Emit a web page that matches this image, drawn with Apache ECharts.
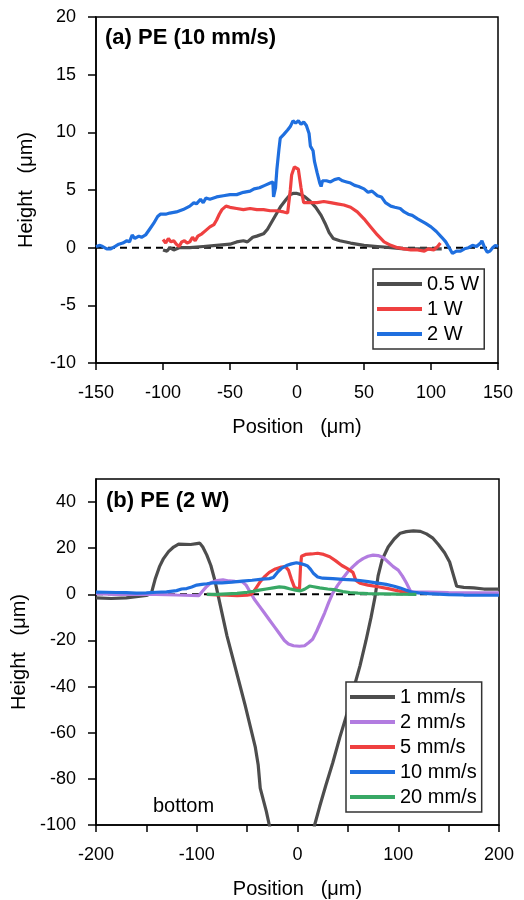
<!DOCTYPE html>
<html>
<head>
<meta charset="utf-8">
<script src="https://cdn.jsdelivr.net/npm/echarts@6/dist/echarts.min.js"></script>
<style>
  html, body { margin: 0; padding: 0; background: #fff; }
  #chart { width: 524px; height: 900px; }
</style>
</head>
<body>
<div id="chart"></div>
<script>
// (a) PE, 10 mm/s : position (um) vs height (um)
const PE10_05W = [[-100,-0.2],[-97,-0.3],[-95,0.0],[-92,-0.2],[-88,0.0],[-80,0.0],[-70,0.1],[-60,0.2],[-50,0.3],[-45,0.5],[-40,0.6],[-37,0.5],[-33,0.9],[-30,1.0],[-25,1.2],[-22,1.6],[-19,2.2],[-15,3.0],[-12,3.6],[-8,4.2],[-5,4.6],[-3,4.7],[0,4.7],[3,4.6],[6,4.4],[10,4.0],[14,3.5],[18,2.8],[21,2.1],[24,1.3],[27,0.8],[32,0.6],[40,0.4],[50,0.2],[60,0.1],[70,0.0],[80,-0.1],[90,-0.1],[100,-0.1],[108,-0.1]];
const PE10_1W = [[-100,0.7],[-98,0.4],[-96,0.8],[-94,0.5],[-92,0.6],[-90,0.3],[-88,0.1],[-86,0.5],[-84,0.6],[-82,0.4],[-80,0.5],[-78,0.9],[-76,0.6],[-74,1.0],[-71,1.2],[-68,1.5],[-65,1.8],[-62,2.0],[-60,2.4],[-58,2.9],[-56,3.3],[-53,3.6],[-50,3.5],[-45,3.4],[-40,3.3],[-35,3.4],[-30,3.3],[-25,3.3],[-20,3.2],[-15,3.2],[-10,3.1],[-7,3.0],[-6,2.9],[-5,5.0],[-4,6.3],[-2,7.0],[-1,7.1],[1,6.8],[2,6.0],[3,5.2],[4,4.5],[5,3.9],[6,3.8],[10,3.9],[15,3.9],[20,4.0],[25,3.9],[30,3.8],[35,3.7],[40,3.5],[45,3.1],[50,2.5],[55,1.8],[60,1.1],[65,0.5],[70,0.2],[75,0.0],[80,-0.1],[85,-0.2],[90,-0.2],[95,-0.3],[98,-0.1],[102,-0.2],[105,0.1],[107,0.4]];
const PE10_2W = [[-150,0.1],[-147,0.2],[-145,0.1],[-142,-0.1],[-139,-0.1],[-136,0.1],[-133,0.3],[-130,0.4],[-127,0.6],[-125,0.5],[-123,1.1],[-121,0.8],[-118,1.0],[-116,0.9],[-113,1.1],[-110,1.6],[-107,2.1],[-104,2.7],[-102,2.9],[-98,2.9],[-95,3.0],[-90,3.1],[-85,3.3],[-80,3.6],[-77,3.9],[-75,3.8],[-72,4.2],[-70,3.9],[-68,4.3],[-65,4.2],[-60,4.4],[-55,4.5],[-50,4.6],[-45,4.6],[-40,4.8],[-35,4.9],[-32,5.1],[-28,5.2],[-24,5.4],[-20,5.6],[-18,5.7],[-17.5,4.4],[-16,5.2],[-15,6.8],[-13.5,8.5],[-12.5,9.5],[-10,9.8],[-7,10.2],[-5,10.5],[-3,11.0],[-1,10.8],[1,11.0],[3,10.7],[5,10.9],[7,10.6],[9,9.9],[10,8.8],[11,8.7],[12,8.4],[13,7.5],[15,6.5],[17,5.6],[18,5.3],[19,5.8],[22,5.8],[25,5.7],[28,5.9],[31,6.0],[34,5.8],[37,5.7],[40,5.6],[43,5.4],[46,5.3],[50,5.1],[53,4.8],[56,4.9],[60,4.5],[63,4.4],[66,3.9],[70,3.6],[73,3.5],[77,3.4],[80,3.1],[83,2.9],[86,2.8],[90,2.5],[93,2.3],[96,2.1],[100,1.8],[104,1.4],[108,0.9],[111,0.5],[114,-0.1],[116,-0.5],[119,-0.3],[122,-0.3],[125,-0.1],[128,0.0],[131,0.2],[134,0.1],[137,0.4],[138,0.6],[140,0.0],[142,-0.4],[144,-0.3],[146,0.0],[148,0.2],[150,0.1]];

// (b) PE, 2 W : scan speeds
const PE2W_1 = [[-200,-1.5],[-185,-1.8],[-170,-1.5],[-160,-1.0],[-150,-0.5],[-145,0.5],[-141,7],[-137,12],[-133,15.5],[-128,18.5],[-123,20.5],[-118,21.8],[-112,21.7],[-106,21.6],[-100,22.0],[-97,22.2],[-94,20.5],[-90,17],[-86,12.5],[-82,6],[-79,0],[-75,-8],[-70,-18],[-64,-28],[-58,-38],[-52,-48],[-47,-57],[-42,-66],[-39,-74],[-37,-84],[-34,-89],[-31,-94],[-28,-100],[-22,-112],[0,-120],[13,-110],[17,-100],[22,-92],[28,-83],[35,-73],[42,-62],[49,-52],[55,-42],[62,-31],[68,-20],[73,-10],[77,-1],[80,8],[84,15],[90,20.5],[96,24],[102,26.5],[108,27.2],[115,27.5],[122,27.3],[128,26.2],[134,24.5],[140,21.5],[146,18],[151,14],[155,8],[158,3.5],[165,3.0],[175,2.8],[185,2.3],[200,2.3]];
const PE2W_2 = [[-200,0.3],[-180,0],[-160,0],[-140,0],[-120,-0.3],[-105,-0.5],[-98,-0.6],[-95,1],[-91,3],[-86,5],[-80,6],[-74,6.3],[-68,5.8],[-62,5.6],[-55,5.5],[-51,4],[-47,1],[-43,-2],[-38,-5],[-33,-8],[-28,-11],[-23,-14],[-18,-17],[-13,-20],[-9,-21.5],[-4,-22.3],[2,-22.5],[7,-22.3],[11,-21],[15,-19.5],[19,-16],[23,-12],[27,-8],[31,-3.5],[35,0.5],[40,4],[45,7],[50,9.8],[55,12],[60,14],[65,15.5],[70,16.5],[75,17],[80,16.8],[85,16],[90,14],[95,12],[100,10.5],[104,8],[108,5],[112,1.5],[115,1.0],[130,1.0],[150,0.8],[175,0.6],[200,0.6]];
const PE2W_5 = [[-90,0],[-80,-0.2],[-70,-0.4],[-60,-0.6],[-50,-0.4],[-46,0],[-43,1.5],[-40,3.5],[-37,5.5],[-33,7.5],[-28,9.5],[-22,11],[-16,11.8],[-12,12],[-9,10.5],[-6,6.5],[-3,3],[0,2.5],[2,2.5],[3,12],[4,16.5],[8,17.3],[14,17.5],[20,17.8],[26,17.3],[32,16.3],[38,14.5],[44,12.5],[50,11],[55,9.5],[58,6],[62,4.8],[70,4],[80,3.3],[90,2.5],[100,1.5],[108,0.8],[118,0.3]];
const PE2W_10 = [[-200,1.0],[-190,0.9],[-180,0.8],[-170,0.7],[-160,0.5],[-150,0.6],[-140,0.9],[-130,1.1],[-120,1.6],[-115,2.3],[-110,2.5],[-105,3.2],[-100,4.0],[-95,4.3],[-90,4.6],[-84,5.0],[-75,5.0],[-65,5.3],[-55,5.7],[-45,6.1],[-35,6.6],[-28,6.8],[-24,7.3],[-20,9.5],[-16,11.2],[-11,12.5],[-6,13.2],[-1,13.7],[3,13.3],[7,12.8],[10,12.3],[13,10.8],[16,9.0],[20,7.5],[25,7.0],[35,6.8],[45,6.5],[55,6.3],[62,6.0],[70,5.5],[78,5.0],[88,4.3],[96,3.5],[102,2.7],[108,1.8],[113,1.0],[120,0.6],[130,0.3],[140,0.1],[150,-0.1],[165,-0.3],[180,-0.4],[200,-0.4]];
const PE2W_20 = [[-90,0],[-80,0],[-70,0.2],[-60,0.4],[-50,0.9],[-44,1.3],[-38,1.8],[-31,2.3],[-24,2.8],[-18,3.2],[-13,3.0],[-8,2.4],[-2,1.8],[3,1.5],[7,2.2],[12,3.6],[16,3.3],[22,2.8],[30,2.3],[38,1.9],[45,1.2],[52,0.8],[60,0.5],[70,0.3],[85,0.2],[100,0.1],[118,0]];

const NAMES_A = ['0.5 W', '1 W', '2 W'];
const NAMES_B = ['1 mm/s', '2 mm/s', '5 mm/s', '10 mm/s', '20 mm/s'];
const ZERO_A = [[-150, 0], [150, 0]];
const ZERO_B = [[-200, 0], [200, 0]];

const B_X_LABELS = [-200, -100, 0, 100, 200];
const B_X_TICKS = [-200, -150, -100, -50, 0, 50, 100, 150, 200];
const B_Y_TICKS = [-100, -80, -60, -40, -20, 0, 20, 40];

const GRAY = '#4d4d4d', RED = '#ef4040', BLUE = '#1f6fdf', PURPLE = '#b27ce0', GREEN = '#38a865';
const FONT = 'Liberation Sans';

function line(name, data, color, idx) {
    return {
        name: name, type: 'line', data: data,
        xAxisIndex: idx, yAxisIndex: idx,
        showSymbol: false, symbol: 'none', clip: true,
        lineStyle: { color: color, width: 3.2 },
        itemStyle: { color: color },
        z: 3
    };
}
function zero(data, idx) {
    return {
        type: 'line', data: data, xAxisIndex: idx, yAxisIndex: idx,
        symbol: 'none', silent: true, z: 2,
        lineStyle: { color: '#000', width: 2, type: [7, 5] }
    };
}
function xAxis(idx, min, max, interval, extra) {
    return Object.assign({
        type: 'value', gridIndex: idx, min: min, max: max, interval: interval,
        name: 'Position   (μm)', nameLocation: 'middle', nameGap: 54,
        nameTextStyle: { fontSize: 20, color: '#000', fontFamily: FONT },
        axisLine: { onZero: false, lineStyle: { color: '#000', width: 1.5 } },
        axisTick: { inside: false, length: 7, lineStyle: { color: '#000', width: 1.5 } },
        axisLabel: { fontSize: 18, color: '#000', fontFamily: FONT, margin: 21 },
        splitLine: { show: false }
    }, extra || {});
}
function yAxis(idx, min, max, interval, extra) {
    return Object.assign({
        type: 'value', gridIndex: idx, min: min, max: max, interval: interval,
        name: 'Height   (μm)', nameLocation: 'middle', nameGap: 60,
        nameTextStyle: { fontSize: 20, color: '#000', fontFamily: FONT },
        axisLine: { onZero: false, lineStyle: { color: '#000', width: 1.5 } },
        axisTick: { inside: false, length: 8, lineStyle: { color: '#000', width: 1.5 } },
        axisLabel: { fontSize: 18, color: '#000', fontFamily: FONT, margin: 20 },
        splitLine: { show: false }
    }, extra || {});
}
function legend(names, left, top) {
    return {
        data: names, orient: 'vertical', left: left, top: top,
        icon: 'rect', itemWidth: 45, itemHeight: 4, itemGap: 5,
        selectedMode: false,
        textStyle: { fontSize: 20, lineHeight: 20, color: '#000', fontFamily: FONT },
        backgroundColor: '#fff', borderColor: '#333', borderWidth: 1.5,
        padding: [5, 5, 5, 4]
    };
}

const option = {
    animation: false,
    backgroundColor: '#fff',
    grid: [
        { left: 96, top: 17, width: 402, height: 346, show: true, borderColor: '#000', borderWidth: 1.5, backgroundColor: 'transparent' },
        { left: 96, top: 479, width: 403, height: 347, show: true, borderColor: '#000', borderWidth: 1.5, backgroundColor: 'transparent' }
    ],
    xAxis: [
        xAxis(0, -150, 150, 50),
        xAxis(1, -200, 200, 50, {
            axisTick: { length: 7, customValues: B_X_TICKS, lineStyle: { color: '#000', width: 1.5 } },
            axisLabel: { fontSize: 18, color: '#000', fontFamily: FONT, margin: 21, customValues: B_X_LABELS }
        })
    ],
    yAxis: [
        yAxis(0, -10, 20, 5),
        yAxis(1, -100, 50, 20, {
            axisTick: { length: 8, customValues: B_Y_TICKS, lineStyle: { color: '#000', width: 1.5 } },
            axisLabel: { fontSize: 18, color: '#000', fontFamily: FONT, margin: 20, customValues: B_Y_TICKS }
        })
    ],
    legend: [legend(NAMES_A, 373, 269), legend(NAMES_B, 346, 682)],
    graphic: [
        { type: 'text', left: 105, top: 27, style: { text: '(a) PE (10 mm/s)', font: 'bold 22px ' + FONT, fill: '#000' } },
        { type: 'text', left: 106, top: 490, style: { text: '(b) PE (2 W)', font: 'bold 22px ' + FONT, fill: '#000' } },
        { type: 'text', left: 153, top: 796, style: { text: 'bottom', font: '20px ' + FONT, fill: '#000' } }
    ],
    series: [
        zero(ZERO_A, 0),
        line(NAMES_A[0], PE10_05W, GRAY, 0),
        line(NAMES_A[1], PE10_1W, RED, 0),
        line(NAMES_A[2], PE10_2W, BLUE, 0),
        zero(ZERO_B, 1),
        line(NAMES_B[0], PE2W_1, GRAY, 1),
        line(NAMES_B[1], PE2W_2, PURPLE, 1),
        line(NAMES_B[2], PE2W_5, RED, 1),
        line(NAMES_B[3], PE2W_10, BLUE, 1),
        line(NAMES_B[4], PE2W_20, GREEN, 1)
    ]
};

echarts.init(document.getElementById('chart')).setOption(option);
</script>
</body>
</html>
